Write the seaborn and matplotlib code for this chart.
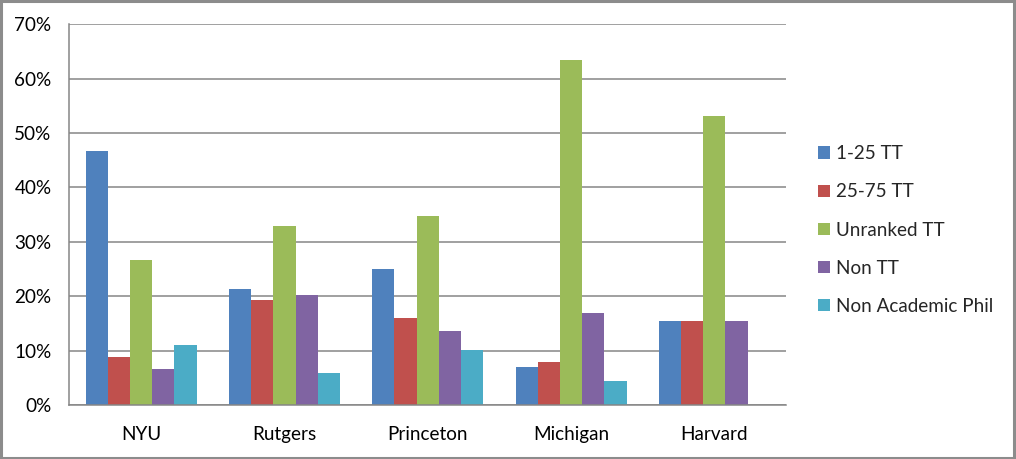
import matplotlib
matplotlib.use("Agg")
import matplotlib.pyplot as plt
import seaborn as sns
import pandas as pd
import numpy as np
from matplotlib.patches import Rectangle, Patch
from matplotlib.ticker import FuncFormatter, MultipleLocator, FixedLocator

schools = ["NYU", "Rutgers", "Princeton", "Michigan", "Harvard"]
series = ["1-25 TT", "25-75 TT", "Unranked TT", "Non TT", "Non Academic Phil"]
v_1_25 = [46.7, 21.4, 25.1, 7.0, 15.5]
v_25_75 = [8.9, 19.4, 16.0, 8.0, 15.5]
v_unranked = [26.7, 33.0, 34.8, 63.5, 53.2]
v_non_tt = [6.7, 20.3, 13.7, 17.0, 15.5]
v_non_acad = [11.1, 5.8, 10.2, 4.5, 0.0]
colors = ["#4F81BD", "#C0504D", "#9BBB59", "#8064A2", "#4BACC6"]

rows = []
for s, vals in zip(series, [v_1_25, v_25_75, v_unranked, v_non_tt, v_non_acad]):
    for sc, v in zip(schools, vals):
        rows.append({"school": sc, "series": s, "value": v / 100.0})
df = pd.DataFrame(rows)

sns.set_style("white")
plt.rcParams["font.family"] = ["Lato", "DejaVu Sans"]
fs = 13.6

fig = plt.figure(figsize=(10.16, 4.59), dpi=100)
fig.patch.set_facecolor("white")
ax = fig.add_axes([0.0684, 0.1176, 0.7052, 0.8294])

sns.barplot(data=df, x="school", y="value", hue="series", order=schools,
            hue_order=series, palette=colors, ax=ax, width=0.775,
            saturation=1, legend=False, errorbar=None, linewidth=0)

grid_c = "#868686"
ax.set_ylim(0, 0.70)
ax.set_xlim(-0.5, 4.5)
ax.yaxis.set_major_locator(MultipleLocator(0.10))
ax.yaxis.set_major_formatter(FuncFormatter(lambda v, p: f"{round(v*100)}%"))
ax.grid(axis="y", color=grid_c, linewidth=1.1)
ax.set_axisbelow(True)
for sp in ["top", "right"]:
    ax.spines[sp].set_visible(False)
for sp in ["left", "bottom"]:
    ax.spines[sp].set_color(grid_c)
    ax.spines[sp].set_linewidth(1.1)
ax.set_xlabel("")
ax.set_ylabel("")
ax.tick_params(axis="y", length=6, color=grid_c, width=1.1, labelsize=fs,
               labelcolor="black", pad=7, direction="out")
ax.tick_params(axis="x", which="major", length=0, labelsize=fs,
               labelcolor="black", pad=15)
ax.xaxis.set_minor_locator(FixedLocator(np.arange(-0.5, 5.0, 1.0)))
ax.tick_params(axis="x", which="minor", length=6, color=grid_c, width=1.1,
               direction="out")

handles = [Patch(facecolor=c, edgecolor="none") for c in colors]
fig.legend(handles, series, loc="upper left", bbox_to_anchor=(0.798, 0.7),
           frameon=False, fontsize=fs, handlelength=0.62, handleheight=0.62,
           handletextpad=0.3, labelspacing=1.12, borderaxespad=0)

fig.add_artist(Rectangle((0.001, 0.002), 0.997, 0.995, transform=fig.transFigure,
                         fill=False, edgecolor="#8C8C8C", linewidth=2.2))

fig.savefig("out.png", dpi=100, facecolor="white")
